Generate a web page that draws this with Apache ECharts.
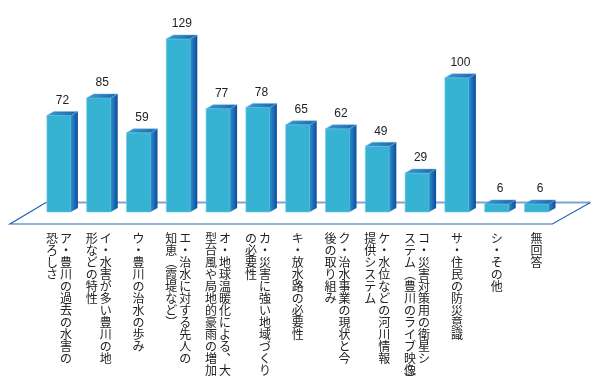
<!DOCTYPE html>
<html>
<head>
<meta charset="utf-8">
<script src="https://cdn.jsdelivr.net/npm/echarts@6/dist/echarts.min.js"></script>
<style>
html,body{margin:0;padding:0;background:#fff;}
#chart{width:600px;height:384px;}
</style>
</head>
<body>
<div id="chart"></div>
<script>
// Category labels, each split into its vertical columns (first column is drawn on the right)
const categoryColumns = [
  ["ア・豊川の過去の水害の", "恐ろしさ"],
  ["イ・水害が多い豊川の地", "形などの特性"],
  ["ウ・豊川の治水の歩み"],
  ["エ・治水に対する先人の", "知恵︵霞堤など︶"],
  ["オ・地球温暖化による︑大", "型台風や局地的豪雨の増加"],
  ["カ・災害に強い地域づくり", "の必要性"],
  ["キ・放水路の必要性"],
  ["ク・治水事業の現状と今", "後の取り組み"],
  ["ケ・水位などの河川情報", "提供システム"],
  ["コ・災害対策用の衛星シ", "ステム︵豊川のライブ映像︶"],
  ["サ・住民の防災意識"],
  ["シ・その他"],
  ["無回答"]
];
const categories = categoryColumns.map(c => c.join(""));
const values = [72, 85, 59, 129, 77, 78, 65, 62, 49, 29, 100, 6, 6];

const chart = echarts.init(document.getElementById('chart'), null, {renderer: 'canvas'});

const PARENS = "︵︶";
function verticalLabel(value, idx) {
  const cols = categoryColumns[idx];
  const arrs = cols.map(c => Array.from(c));
  const n = Math.max(...arrs.map(a => a.length));
  const lines = [];
  for (let i = 0; i < n; i++) {
    let line = "";
    for (let k = arrs.length - 1; k >= 0; k--) {
      const ch = arrs[k][i];
      if (!ch) line += "{e|　}";
      else if (PARENS.includes(ch)) line += "{p|" + ch + "}";
      else line += "{c|" + ch + "}";
    }
    lines.push(line);
  }
  return lines.join("\n");
}

const BW = 24, DX = 7, DY = -4;

function renderBar(params, api) {
  const x = api.value(0), v = api.value(1);
  const base = api.coord([x, 0]);
  const top = api.coord([x, v]);
  const xl = base[0] - BW / 2, xr = base[0] + BW / 2;
  const yb = base[1], yt = top[1];
  return {
    type: 'group',
    children: [
      {type: 'rect', shape: {x: xl, y: yt, width: BW, height: yb - yt},
        style: {fill: '#36b2d2', stroke: '#74cbe3', lineWidth: 0.6}},
      {type: 'polygon', shape: {points: [[xr, yt], [xr + DX, yt + DY], [xr + DX, yb + DY], [xr, yb]]},
        style: {fill: new echarts.graphic.LinearGradient(0, 0, 1, 0, [
          {offset: 0, color: '#2c8fcc'}, {offset: 1, color: '#0c4b9c'}])}},
      {type: 'polygon', shape: {points: [[xl, yt], [xl + DX, yt + DY], [xr + DX, yt + DY], [xr, yt]]},
        style: {fill: new echarts.graphic.LinearGradient(0, 0, 1, 0, [
          {offset: 0, color: '#3a9bd2'}, {offset: 1, color: '#1a62ad'}]),
          stroke: '#6fb8e0', lineWidth: 0.5}},
      {type: 'text', style: {text: String(v), x: base[0] + DX / 2, y: yt + DY - 5,
        align: 'center', verticalAlign: 'bottom',
        font: '12px "Liberation Sans", Arial, sans-serif', fill: '#222'}}
    ]
  };
}

function renderFloor(params, api) {
  const first = api.coord([0, 0]);
  const last = api.coord([categories.length - 1, 0]);
  const band = api.size([1, 0])[0];
  const x0 = first[0] - band / 2, x1 = last[0] + band / 2, y = first[1];
  const FL = [x0 - 29, y + 12], BL = [x0 + 7, y - 9.5];
  const BR = [x1 + 34, y - 9.5], FR = [x1 - 4, y + 12];
  return {
    type: 'group',
    children: [
      {type: 'polygon', shape: {points: [FL, BL, BR, FR]}, style: {fill: '#ffffff'}},
      {type: 'polyline', shape: {points: [BL, BR]}, style: {stroke: '#7fa3d4', lineWidth: 2, fill: null}},
      {type: 'polyline', shape: {points: [BL, FL, FR, BR]}, style: {stroke: '#2566b6', lineWidth: 1.2, fill: null}}
    ]
  };
}

const labelFont = '"Noto Sans CJK JP", sans-serif';
chart.setOption({
  animation: false,
  backgroundColor: '#fff',
  grid: {left: 39, right: 43.6, top: 10.8, bottom: 172, containLabel: false, outerBoundsMode: 'none'},
  xAxis: {
    type: 'category',
    data: categories,
    axisLine: {show: false},
    axisTick: {show: false},
    axisLabel: {
      interval: 0,
      margin: 20.5,
      verticalAlign: 'top',
      formatter: verticalLabel,
      rich: {
        c: {width: 14, align: 'center', lineHeight: 12, fontSize: 12, fontFamily: labelFont, color: '#222'},
        p: {width: 14, align: 'center', lineHeight: 6, fontSize: 12, fontFamily: labelFont, color: '#222'},
        e: {width: 14, align: 'center', lineHeight: 1, fontSize: 12, fontFamily: labelFont, color: '#222'}
      }
    }
  },
  yAxis: {type: 'value', min: 0, max: 150, show: false},
  series: [
    {type: 'custom', renderItem: renderFloor, data: [[0, 0]], z: 1, silent: true, clip: false},
    {type: 'custom', renderItem: renderBar, data: values.map((v, i) => [i, v]),
      encode: {x: 0, y: 1}, z: 2, clip: false}
  ]
});
</script>
</body>
</html>
